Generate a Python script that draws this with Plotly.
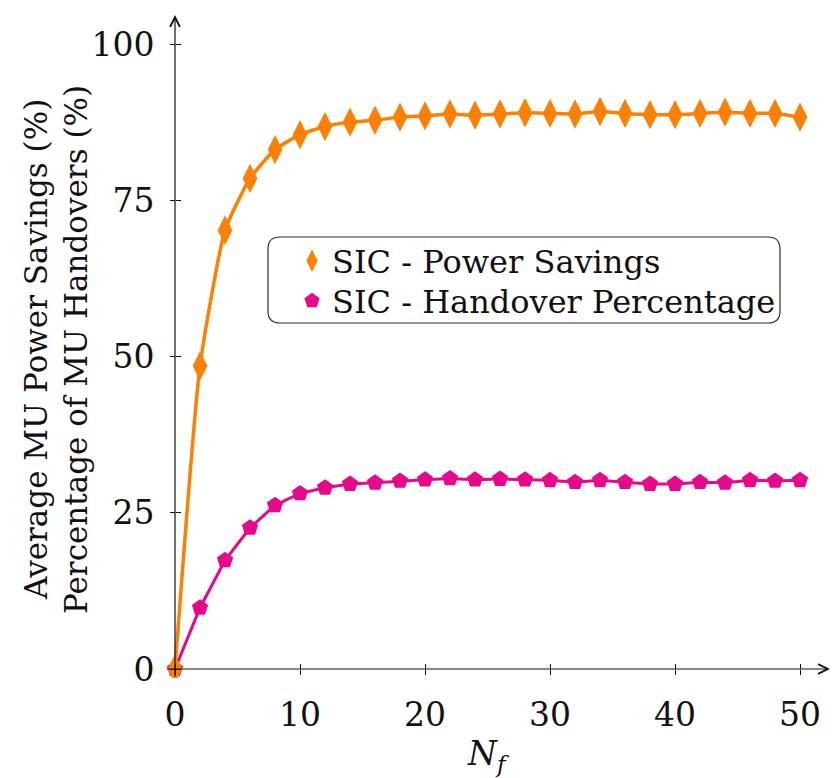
import plotly.graph_objects as go

# Number of femtocells N_f and the two measured curves (percent)
n_f = [0, 2, 4, 6, 8, 10, 12, 14, 16, 18, 20, 22, 24, 26, 28, 30,
       32, 34, 36, 38, 40, 42, 44, 46, 48, 50]
power_savings = [0.0, 48.5, 70.2, 78.5, 83.1, 85.5, 86.8, 87.5, 87.8, 88.3,
                 88.5, 88.8, 88.6, 88.8, 89.0, 88.9, 88.8, 89.2, 88.9, 88.7,
                 88.7, 88.9, 89.1, 88.9, 88.9, 88.3]
handover_pct = [0.0, 9.8, 17.4, 22.6, 26.2, 28.1, 29.0, 29.6, 29.8, 30.1,
                30.3, 30.5, 30.3, 30.4, 30.3, 30.2, 29.9, 30.2, 29.9, 29.6,
                29.6, 29.9, 29.8, 30.2, 30.1, 30.2]

series_names = ["SIC - Power Savings", "SIC - Handover Percentage"]
x_ticks = [0, 10, 20, 30, 40, 50]
y_ticks = [0, 25, 50, 75, 100]
y_title_lines = ["Average MU Power Savings (%)", "Percentage of MU Handovers (%)"]

ORANGE = "#FF8000"
PINK = "#E8078A"
FONT = "DejaVu Serif"
FS = 33

W, H = 832, 778
M_L, M_R, M_T, M_B = 165, 2, 15, 100
X_RANGE = [-0.8, 52.4]
Y_RANGE = [-1.44, 104.64]

PW = W - M_L - M_R
PH = H - M_T - M_B


def px_x(px):
    return (px - M_L) / PW


def px_y(py):
    return (H - M_B - py) / PH


# paper fractions where the axes cross (x = 0, y = 0)
x_zero = (0 - X_RANGE[0]) / (X_RANGE[1] - X_RANGE[0])
y_zero = (0 - Y_RANGE[0]) / (Y_RANGE[1] - Y_RANGE[0])

fig = go.Figure()

fig.add_trace(go.Scatter(
    x=n_f, y=handover_pct, mode="lines+markers", showlegend=False,
    line=dict(color=PINK, width=3),
    marker=dict(symbol="pentagon", size=17, color=PINK),
))
fig.add_trace(go.Scatter(
    x=n_f, y=power_savings, mode="lines+markers", showlegend=False,
    line=dict(color=ORANGE, width=3.5, shape="spline", smoothing=0.5),
    marker=dict(symbol="diamond-tall", size=21, color=ORANGE),
))

# legend entries (marker only), one legend per row
fig.add_trace(go.Scatter(
    x=[None], y=[None], mode="markers", name=series_names[0],
    marker=dict(symbol="diamond-tall", size=16, color=ORANGE),
    legend="legend", xaxis="x2", yaxis="y",
))
fig.add_trace(go.Scatter(
    x=[None], y=[None], mode="markers", name=series_names[1],
    marker=dict(symbol="pentagon", size=16, color=PINK),
    legend="legend2", xaxis="x", yaxis="y2",
))

tick_font = dict(family=FONT, size=FS, color="#111")
legend_font = dict(family=FONT, size=32, color="#111")
common = dict(showgrid=False, zeroline=False, showline=False,
              tickcolor="#111", tickwidth=1.2, ticklen=5)

fig.update_layout(
    width=W, height=H,
    margin=dict(l=M_L, r=M_R, t=M_T, b=M_B),
    paper_bgcolor="white", plot_bgcolor="white",
    font=dict(family=FONT, color="#111"),
    xaxis=dict(range=X_RANGE, anchor="free", position=y_zero,
               tickvals=x_ticks, ticks="outside", tickfont=tick_font,
               ticklabelstandoff=11, **common),
    xaxis2=dict(overlaying="x", matches="x", anchor="free", position=y_zero,
                tickvals=x_ticks, ticks="inside", showticklabels=False,
                **common),
    yaxis=dict(range=Y_RANGE, anchor="free", position=x_zero,
               tickvals=y_ticks, ticks="outside", tickfont=tick_font,
               ticklabelstandoff=9, **common),
    yaxis2=dict(overlaying="y", matches="y", anchor="free", position=x_zero,
                tickvals=y_ticks, ticks="inside", showticklabels=False,
                **common),
    legend=dict(x=px_x(292), y=px_y(261), xanchor="left", yanchor="middle",
                bgcolor="rgba(0,0,0,0)", borderwidth=0, font=legend_font),
    legend2=dict(x=px_x(292), y=px_y(301), xanchor="left", yanchor="middle",
                 bgcolor="rgba(0,0,0,0)", borderwidth=0, font=legend_font),
)

# axis lines with arrow tips
fig.add_annotation(x=X_RANGE[1], y=0, ax=X_RANGE[0], ay=0,
                   xref="x", yref="y", axref="x", ayref="y", text="",
                   showarrow=True, arrowhead=5, arrowsize=1.6,
                   arrowwidth=1.2, arrowcolor="#111")
fig.add_annotation(x=0, y=Y_RANGE[1], ax=0, ay=Y_RANGE[0],
                   xref="x", yref="y", axref="x", ayref="y", text="",
                   showarrow=True, arrowhead=5, arrowsize=1.6,
                   arrowwidth=1.2, arrowcolor="#111")

# rotated two-line y title
for cx, line in zip([36, 76], y_title_lines):
    fig.add_annotation(x=px_x(cx), y=px_y(350), xref="paper", yref="paper",
                       text=line, textangle=-90, showarrow=False,
                       xanchor="center", yanchor="middle",
                       font=dict(family=FONT, size=31, color="#111"))

# x title
fig.add_annotation(x=25, y=px_y(755), xref="x", yref="paper",
                   text="<i>N</i><sub><i>f</i></sub>", showarrow=False,
                   xanchor="center", yanchor="middle",
                   font=dict(family=FONT, size=FS, color="#111"))

# rounded legend frame
x0, x1 = px_x(268), px_x(780)
y0, y1 = px_y(323), px_y(237)
rx, ry = 12 / PW, 12 / PH
frame = (f"M {x0+rx},{y1} L {x1-rx},{y1} Q {x1},{y1} {x1},{y1-ry} "
         f"L {x1},{y0+ry} Q {x1},{y0} {x1-rx},{y0} L {x0+rx},{y0} "
         f"Q {x0},{y0} {x0},{y0+ry} L {x0},{y1-ry} Q {x0},{y1} {x0+rx},{y1} Z")
fig.add_shape(type="path", path=frame, xref="paper", yref="paper",
              line=dict(color="#333", width=1.2), fillcolor="white",
              layer="below")

fig.write_html("out.html")
